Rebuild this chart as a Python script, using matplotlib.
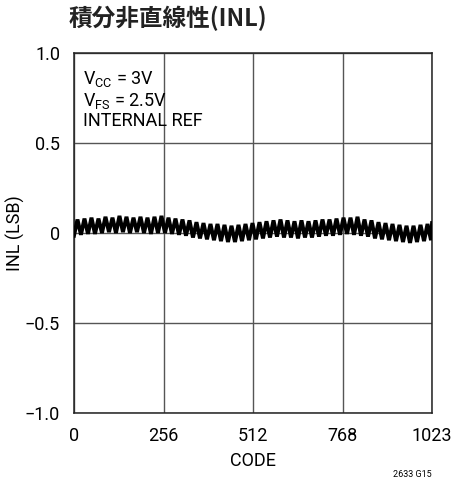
import matplotlib
matplotlib.use("Agg")
import matplotlib.pyplot as plt

# INL vs. output code (LSB), zigzag samples every 10 codes
codes = list(range(0, 1021, 10)) + [1023]
inl = [
    -0.015, 0.075, -0.010, 0.080, -0.005, 0.085, -0.005, 0.080, 0.000, 0.090,
    0.005, 0.085, 0.000, 0.095, 0.005, 0.090, 0.000, 0.085, 0.005, 0.090,
    0.000, 0.085, -0.005, 0.090, 0.000, 0.095, 0.000, 0.085, -0.005, 0.080,
    -0.010, 0.075, -0.015, 0.070, -0.025, 0.060, -0.030, 0.055, -0.035, 0.050,
    -0.040, 0.050, -0.045, 0.045, -0.050, 0.040, -0.050, 0.045, -0.045, 0.050,
    -0.040, 0.055, -0.035, 0.060, -0.030, 0.065, -0.025, 0.070, -0.020, 0.075,
    -0.025, 0.070, -0.025, 0.065, -0.030, 0.070, -0.025, 0.065, -0.025, 0.070,
    -0.020, 0.075, -0.015, 0.075, -0.015, 0.080, -0.010, 0.085, -0.005, 0.085,
    -0.010, 0.090, -0.015, 0.075, -0.020, 0.070, -0.030, 0.060, -0.035, 0.055,
    -0.040, 0.050, -0.045, 0.045, -0.050, 0.040, -0.055, 0.040, -0.050, 0.045,
    -0.045, 0.050, -0.040, 0.055,
]

x_ticks = [0, 256, 512, 768, 1023]
x_tick_labels = ["0", "256", "512", "768", "1023"]
y_ticks = [-1.0, -0.5, 0.0, 0.5, 1.0]
y_tick_labels = ["\u22121.0", "\u22120.5", "0", "0.5", "1.0"]

title = "積分非直線性(INL)"
notes = ["$\\mathregular{V_{CC}}$ = 3V", "$\\mathregular{V_{FS}}$ = 2.5V", "INTERNAL REF"]

plt.rcParams["font.family"] = ["Roboto", "DejaVu Sans"]
plt.rcParams["mathtext.fontset"] = "custom"
plt.rcParams["mathtext.rm"] = "Roboto"

fig = plt.figure(figsize=(4.51, 4.80), dpi=100)
ax = fig.add_axes([0.164, 0.1396, 0.794, 0.75])

ax.plot(codes, inl, color="black", lw=2.8, solid_joinstyle="miter", zorder=3)

ax.set_xlim(0, 1023)
ax.set_ylim(-1.0, 1.0)
ax.set_xticks(x_ticks)
ax.set_xticklabels(x_tick_labels)
ax.set_yticks(y_ticks)
ax.set_yticklabels(y_tick_labels)
ax.tick_params(length=0, labelsize=13, pad=10, colors="black")
ax.grid(True, color="#555555", lw=1.0)
for s in ax.spines.values():
    s.set_color("#222222")
    s.set_linewidth(1.1)

ax.set_xlabel("CODE", fontsize=13)
ax.xaxis.set_label_coords(0.5, -0.108)
ax.set_ylabel("INL (LSB)", fontsize=13)
ax.yaxis.set_label_coords(-0.138, 0.5)

for k, line in enumerate(notes):
    ax.text(0.025, 0.955 - k * 0.06, line, transform=ax.transAxes,
            fontsize=13, va="top", ha="left")

fig.text(0.152, 0.962, title, fontsize=17, fontweight="bold",
         family=["Noto Sans CJK JP", "DejaVu Sans"], va="center", ha="left",
         color="#222222")
fig.text(0.958, 0.012, "2633 G15", fontsize=6.5, ha="right", va="center")

fig.savefig("out.png", dpi=100)
